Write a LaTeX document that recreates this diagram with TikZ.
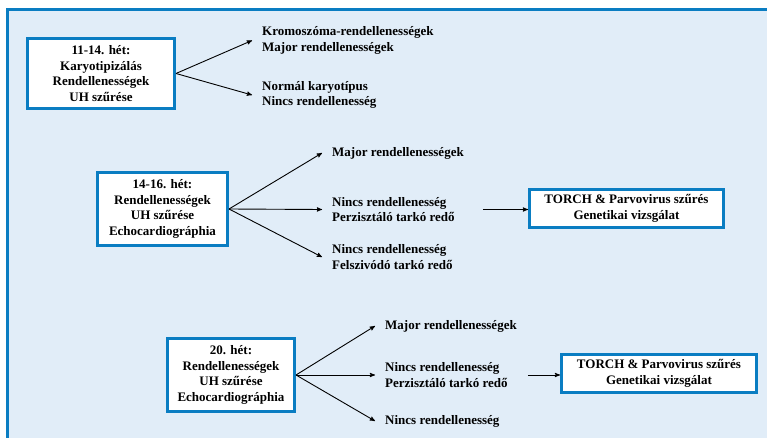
\documentclass[tikz,border=0pt]{standalone}
\usepackage{fontspec}
\setmainfont{Liberation Serif}
\usetikzlibrary{arrows,positioning}
\definecolor{panelblue}{HTML}{E1EDF8}
\definecolor{lineblue}{HTML}{0A7DC2}
\tikzset{week box/.style={rectangle,draw=lineblue,line width=3pt,fill=white,align=center,inner sep=0pt,font=\bfseries\fontsize{13}{15.5}\selectfont},
         result/.style={rectangle,anchor=west,inner xsep=10pt,inner ysep=0pt,align=left,font=\bfseries\fontsize{13}{15.5}\selectfont},
         branch/.style={->,>=stealth',line width=0.9pt}
}

\begin{document}
\begin{tikzpicture}[x=1pt,y=-1pt]
\useasboundingbox (0,0) rectangle (767,438);
% panel
\fill[panelblue] (7.5,9.5) rectangle (767,438);
\draw[lineblue,line width=2.5pt] (7.5,438) -- (7.5,9.5) -- (767,9.5);

% 11-14. het
\node[week box,minimum width=147pt,minimum height=70pt] (w1) at (101,73.5)
    {11-14. hét:\\Karyotipizálás\\Rendellenességek\\UH szűrése};
\node[result] (r11) at (252,40.5) {Kromoszóma-rendellenességek\\Major rendellenességek};
\node[result] (r12) at (252,95) {Normál karyotípus\\Nincs rendellenesség};
\draw[branch] (w1.east) -- (r11.west);
\draw[branch] (w1.east) -- (r12.west);

% 14-16. het
\node[week box,minimum width=130pt,minimum height=73pt] (w2) at (162.5,209)
    {14-16. hét:\\Rendellenességek\\UH szűrése\\Echocardiográphia};
\node[result] (r21) at (322,153) {Major rendellenességek};
\node[result] (r22) at (322,209.5) {Nincs rendellenesség\\Perzisztáló tarkó redő};
\node[result] (r23) at (322,257) {Nincs rendellenesség\\Felszivódó tarkó redő};
\draw[branch] (w2.east) -- (r21.west);
\draw[branch] (w2.east) -- (r22.west);
\draw[branch] (w2.east) -- (r23.west);
\node[week box,minimum width=194pt,minimum height=38pt] (t2) at (626.5,208.5)
    {TORCH \& Parvovirus szűrés\\Genetikai vizsgálat};
\draw[branch,shorten <=18pt] (r22.east) -- (r22.east -| t2.west);

% 20. het
\node[week box,minimum width=127pt,minimum height=73pt] (w3) at (231,375)
    {20. hét:\\Rendellenességek\\UH szűrése\\Echocardiográphia};
\node[result] (r31) at (375,326) {Major rendellenességek};
\node[result] (r32) at (375,375) {Nincs rendellenesség\\Perzisztáló tarkó redő};
\node[result] (r33) at (375,421) {Nincs rendellenesség};
\draw[branch] (w3.east) -- (r31.west);
\draw[branch] (w3.east) -- (r32.west);
\draw[branch] (w3.east) -- (r33.west);
\node[week box,minimum width=195pt,minimum height=38pt] (t3) at (659,373.5)
    {TORCH \& Parvovirus szűrés\\Genetikai vizsgálat};
\draw[branch,shorten <=10pt] (r32.east) -- (r32.east -| t3.west);
\end{tikzpicture}
\end{document}
